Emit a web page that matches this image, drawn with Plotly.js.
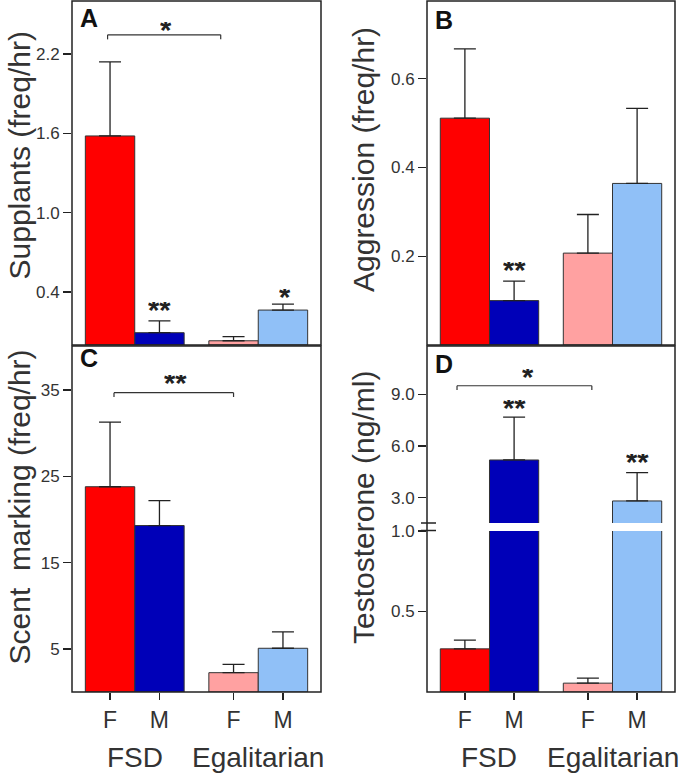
<!DOCTYPE html>
<html>
<head>
<meta charset="utf-8">
<script src="https://cdn.plot.ly/plotly-3.0.1.min.js"></script>
<style>html,body{margin:0;padding:0;background:#fff;}#chart{width:683px;height:778px;}</style>
</head>
<body>
<div id="chart"></div>
<script>
// ---------- data ----------
const groups = ['FSD', 'FSD', 'Egalitarian', 'Egalitarian'];
const sexes = ['F', 'M', 'F', 'M'];
const groupNames = ['FSD', 'Egalitarian'];

const supplantsMean = [1.58, 0.093, 0.032, 0.264];
const supplantsSem  = [0.56, 0.090, 0.031, 0.045];

const aggressionMean = [0.511, 0.100, 0.207, 0.364];
const aggressionSem  = [0.156, 0.044, 0.087, 0.169];

const scentMean = [23.8, 19.3, 2.24, 5.07];
const scentSem  = [7.5, 2.9, 0.96, 1.9];

const testosteroneMean = [0.268, 5.19, 0.055, 2.81];
const testosteroneSem  = [0.054, 2.49, 0.031, 1.64];

const supplantsTicks = [0.4, 1.0, 1.6, 2.2];
const aggressionTicks = [0.2, 0.4, 0.6];
const scentTicks = [5, 15, 25, 35];
const testoLowTicks = [0.5, 1.0];
const testoHighTicks = [3.0, 6.0, 9.0];

// ---------- helpers ----------
const W = 683, H = 778;
const px = v => v / W;
const py = v => 1 - v / H;
const GROUP_GAP = 2.5;
const xOf = i => groupNames.indexOf(groups[i]) * GROUP_GAP + (sexes[i] === 'M' ? 1 : 0);
const xs = groups.map((g, i) => xOf(i));
const barColors = groups.map((g, i) => g === 'FSD'
  ? (sexes[i] === 'F' ? '#ff0000' : '#0000b8')
  : (sexes[i] === 'F' ? '#ffa1a1' : '#90c0f7'));

function barTrace(mean, sem, xa, ya, errFilter) {
  const errs = sem.map((s, i) => (errFilter ? errFilter(i) : true) ? s : NaN);
  return {
    type: 'bar', x: xs, y: mean, width: 1, xaxis: xa, yaxis: ya,
    marker: {color: barColors, line: {color: '#333', width: 1}},
    error_y: {type: 'data', array: errs, arrayminus: mean.map(() => 0), symmetric: false,
              visible: true, color: '#222', thickness: 1.3, width: 11},
    hoverinfo: 'skip', showlegend: false
  };
}

const LOW_TOP = 1.0;
const traces = [
  barTrace(supplantsMean, supplantsSem, 'x', 'y'),
  barTrace(aggressionMean, aggressionSem, 'x2', 'y2'),
  barTrace(scentMean, scentSem, 'x3', 'y3'),
  barTrace(testosteroneMean, testosteroneSem, 'x4', 'y4', i => testosteroneMean[i] + testosteroneSem[i] <= LOW_TOP),
  barTrace(testosteroneMean, testosteroneSem, 'x5', 'y5', i => testosteroneMean[i] > LOW_TOP)
];

const XR = [-0.77, 4.27];
const leftX = [px(72), px(321)];
const rightX = [px(427), px(675)];
const topY = [py(345), py(1)];
const botY = [py(692), py(347)];

const FONT = 'Liberation Sans, Arial, sans-serif';
const tickFont = {family: FONT, size: 17, color: '#333'};
function yax(domain, range, tickvals, fmt, anchor) {
  return {domain, range, tickvals, ticktext: tickvals.map(v => fmt(v)), ticks: 'outside',
          ticklen: 8, tickwidth: 1.3, tickcolor: '#222', showgrid: false, zeroline: false,
          showline: false, tickfont: tickFont, anchor, fixedrange: true};
}
function xax(domain, anchor, showTicks) {
  return {domain, range: XR, anchor, showgrid: false, zeroline: false, showline: false,
          tickvals: showTicks ? xs : [], ticktext: showTicks ? sexes : [],
          ticks: showTicks ? 'outside' : '', ticklen: 7, tickwidth: 1.3, tickcolor: '#222',
          tickfont: {family: FONT, size: 23, color: '#333'},
          fixedrange: true};
}
const f1 = v => v.toFixed(1);
const f0 = v => String(v);

const layout = {
  width: W, height: H, margin: {l: 0, r: 0, t: 0, b: 0},
  paper_bgcolor: '#fff', plot_bgcolor: 'rgba(0,0,0,0)',
  font: {family: FONT, color: '#333'},
  showlegend: false,
  xaxis: xax(leftX, 'y', false),
  yaxis: yax(topY, [0, 2.6], supplantsTicks, f1, 'x'),
  xaxis2: xax(rightX, 'y2', false),
  yaxis2: yax(topY, [0, 0.775], aggressionTicks, f1, 'x2'),
  xaxis3: xax(leftX, 'y3', true),
  yaxis3: yax(botY, [0, 40], scentTicks, f0, 'x3'),
  xaxis4: xax(rightX, 'y4', true),
  yaxis4: yax([py(692), py(531)], [0, 1.0], testoLowTicks, f1, 'x4'),
  xaxis5: xax(rightX, 'y5', false),
  yaxis5: yax([py(523), py(347)], [1.53, 11.75], testoHighTicks, f1, 'x5'),
  shapes: [],
  annotations: []
};

// frames
[[72, 1, 321, 345], [427, 1, 675, 345], [72, 346, 321, 692], [427, 346, 675, 692]].forEach(b => {
  layout.shapes.push({type: 'rect', xref: 'paper', yref: 'paper', x0: px(b[0]), x1: px(b[2]),
    y0: py(b[3]), y1: py(b[1]), line: {color: '#222', width: 1.5}, layer: 'above'});
});
// axis break marks on D
[523, 530.5].forEach(yy => {
  layout.shapes.push({type: 'line', xref: 'paper', yref: 'paper', x0: px(421), x1: px(436),
    y0: py(yy), y1: py(yy), line: {color: '#222', width: 1.5}});
});

// significance brackets
function bracket(xa, ya, x0, x1, y, yTick) {
  const base = {type: 'line', xref: xa, yref: ya, line: {color: '#333', width: 1.2}};
  layout.shapes.push(Object.assign({}, base, {x0, x1, y0: y, y1: y}));
  layout.shapes.push(Object.assign({}, base, {x0, x1: x0, y0: y, y1: yTick}));
  layout.shapes.push(Object.assign({}, base, {x0: x1, x1, y0: y, y1: yTick}));
}
bracket('x', 'y', -0.05, 2.24, 2.344, 2.31);
bracket('x3', 'y3', 0.08, 2.5, 34.7, 34.2);
bracket('x5', 'y5', -0.16, 2.58, 9.5, 9.25);

function star(xa, ya, x, y, txt) {
  layout.annotations.push({xref: xa, yref: ya, x, y, text: '<b>' + txt + '</b>', showarrow: false,
    xanchor: 'center', yanchor: 'middle', yshift: -5, height: 16, valign: 'middle',
    font: {family: FONT, size: 29, color: '#222'}});
}
star('x', 'y', 1.125, 2.42, '*');
star('x', 'y', 1.0, 0.30, '**');
star('x', 'y', 3.54, 0.40, '*');
star('x2', 'y2', 1.0, 0.18, '**');
star('x3', 'y3', 1.32, 36.4, '**');
star('x5', 'y5', 1.28, 10.3, '*');
star('x5', 'y5', 1.0, 8.5, '**');
star('x5', 'y5', 3.5, 5.38, '**');

// panel letters
[['A', 89, 18.5], ['B', 444, 20], ['C', 89, 358], ['D', 444, 364]].forEach(p => {
  layout.annotations.push({xref: 'paper', yref: 'paper', x: px(p[1]), y: py(p[2]), text: '<b>' + p[0] + '</b>',
    showarrow: false, xanchor: 'center', yanchor: 'middle',
    font: {family: FONT, size: 25, color: '#111'}});
});

// y titles
[['Supplants (freq/hr)', 18.5, 156], ['Aggression (freq/hr)', 363, 160],
 ['Scent\u00a0 marking (freq/hr)', 18.5, 507], ['Testosterone (ng/ml)', 363, 508]].forEach(t => {
  layout.annotations.push({xref: 'paper', yref: 'paper', x: px(t[1]), y: py(t[2]), text: t[0],
    textangle: -90, showarrow: false, xanchor: 'center', yanchor: 'middle',
    font: {family: FONT, size: 30, color: '#333'}});
});

// group labels
[['FSD', 'x3', 0.5], ['Egalitarian', 'x3', 3.0], ['FSD', 'x4', 0.5], ['Egalitarian', 'x4', 3.0]].forEach(g => {
  layout.annotations.push({xref: g[1], yref: 'paper', x: g[2], y: py(757), text: g[0],
    showarrow: false, xanchor: 'center', yanchor: 'middle',
    font: {family: FONT, size: 28, color: '#333'}});
});

Plotly.newPlot('chart', traces, layout, {staticPlot: true, displayModeBar: false});
</script>
</body>
</html>
